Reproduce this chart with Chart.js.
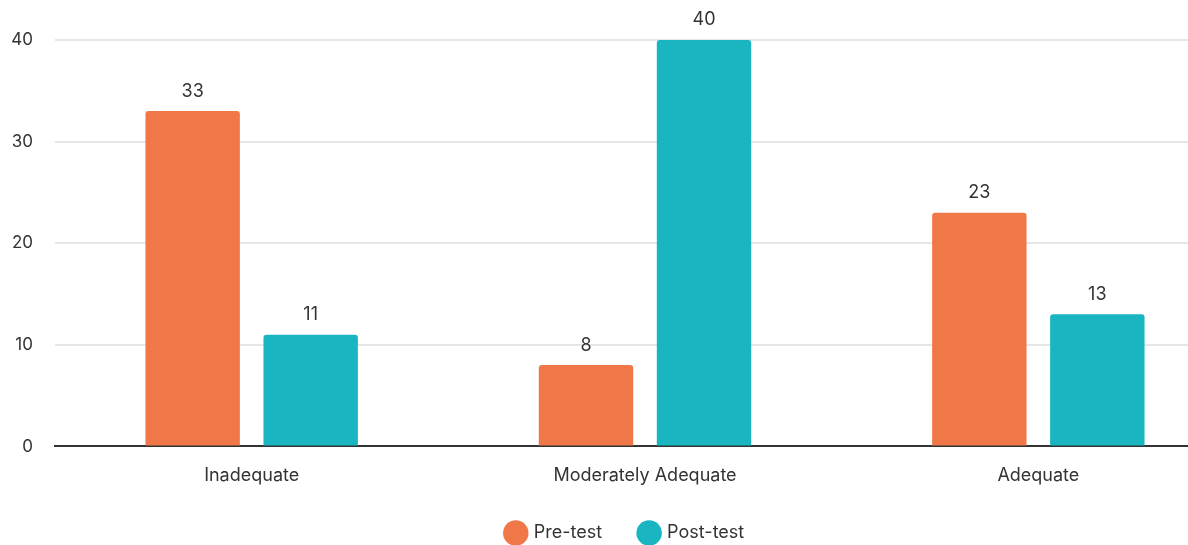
<!DOCTYPE html>
<html><head><meta charset="utf-8">
<script src="https://cdn.jsdelivr.net/npm/chart.js@4/dist/chart.umd.min.js"></script>
<style>html,body{margin:0;padding:0;overflow:hidden;background:#fff;width:1188px;height:545px}canvas{display:block}</style>
</head><body>
<canvas id="c" width="1243" height="551"></canvas>
<script>
const categories = ["Inadequate", "Moderately Adequate", "Adequate"];
const preTest = [33, 8, 23];
const postTest = [11, 40, 13];
const seriesNames = ["Pre-test", "Post-test"];
const yTicks = [0, 10, 20, 30, 40];

const FONT = "Inter, Roboto, sans-serif";
const valueLabels = {
  id: 'valueLabels',
  afterDatasetsDraw(chart) {
    const ctx = chart.ctx;
    ctx.save();
    ctx.font = "18px " + FONT;
    ctx.fillStyle = "#333";
    ctx.textAlign = "center";
    ctx.textBaseline = "bottom";
    chart.data.datasets.forEach((ds, i) => {
      chart.getDatasetMeta(i).data.forEach((bar, j) => {
        ctx.fillText(String(ds.data[j]), bar.x, bar.y - 11);
      });
    });
    ctx.restore();
  }
};
// nudge the legend box to sit where the reference puts it
const legendNudge = {
  id: 'legendNudge',
  afterLayout(chart) {
    const l = chart.legend;
    if (!l) return;
    l.top -= 18;
    l.left += 8; l.right += 8;
  }
};

new Chart(document.getElementById('c'), {
  type: 'bar',
  data: {
    labels: categories,
    datasets: [
      { label: seriesNames[0], data: preTest, backgroundColor: '#F07848', borderRadius: 3, borderSkipped: 'bottom' },
      { label: seriesNames[1], data: postTest, backgroundColor: '#19B5C1', borderRadius: 3, borderSkipped: 'bottom' }
    ]
  },
  options: {
    responsive: false,
    animation: false,
    devicePixelRatio: 1,
    layout: { padding: { top: 40, bottom: 0, left: 0, right: 8 } },
    datasets: { bar: { categoryPercentage: 0.6, barPercentage: 0.8 } },
    plugins: {
      legend: {
        position: 'bottom',
        maxHeight: 47,
        labels: { usePointStyle: true, pointStyle: 'circle', boxWidth: 30, boxHeight: 30, padding: 38, color: '#333', font: { family: FONT, size: 18 } }
      },
      tooltip: { enabled: false }
    },
    scales: {
      x: {
        grid: { display: false, drawTicks: false },
        border: { display: true, color: '#333', width: 2 },
        ticks: { color: '#333', padding: 18, font: { family: FONT, size: 18 } }
      },
      y: {
        min: 0, max: 40,
        afterBuildTicks(scale) { scale.ticks = yTicks.map(v => ({ value: v })); },
        afterFit(scale) { scale.width = 55; },
        grid: { color: '#e6e6e6', lineWidth: 2, drawTicks: false },
        border: { display: false },
        ticks: { color: '#333', padding: 22, font: { family: FONT, size: 17 } }
      }
    }
  },
  plugins: [valueLabels, legendNudge]
});
</script>
</body></html>
